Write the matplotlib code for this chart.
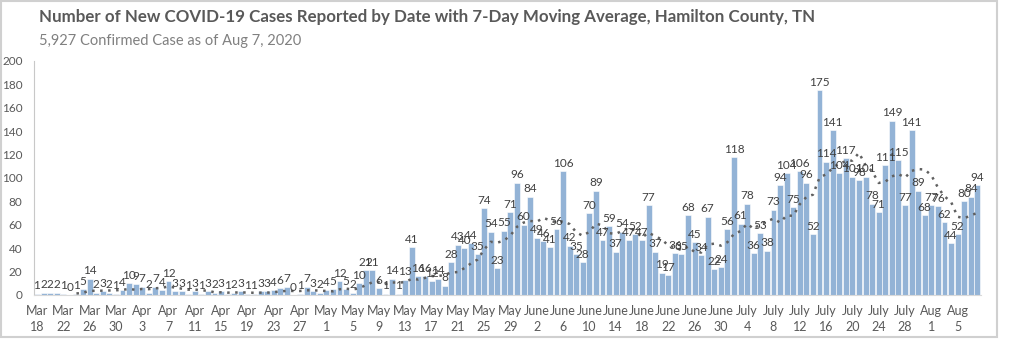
import matplotlib
matplotlib.use('Agg')
import matplotlib.pyplot as plt
from matplotlib.patches import Rectangle
import pandas as pd
import numpy as np

# daily new cases, Mar 18 - Aug 8 2020
mar = [1, 2, 2, 2, 1, 0, 1, 5, 14, 2, 3, 2, 1, 4]
apr = [10, 9, 7, 2, 7, 4, 12, 3, 3, 1, 3, 1, 3, 2, 3, 1, 2, 3, 1, 1,
       3, 3, 4, 6, 7, 0, 1, 7, 3, 2]
may = [4, 5, 12, 5, 2, 10, 21, 21, 6, 1, 14, 1, 13, 41, 16, 16, 12, 14, 8, 28,
       43, 40, 44, 35, 74, 54, 23, 55, 71, 96, 60]
jun = [84, 49, 46, 41, 56, 106, 42, 35, 28, 70, 89, 47, 59, 37, 54, 47, 52, 47, 77, 37,
       19, 17, 36, 35, 68, 45, 34, 67, 22, 24]
jul = [56, 118, 61, 78, 36, 53, 38, 73, 94, 104, 75, 106, 96, 52, 175, 114, 141, 104, 117, 101,
       98, 101, 78, 71, 111, 149, 115, 77, 141, 89, 68]
aug = [77, 76, 62, 44, 52, 80, 84, 94]

cases = mar + apr + may + jun + jul + aug
dates = pd.date_range('2020-03-18', periods=len(cases), freq='D')
df = pd.DataFrame({'date': dates, 'cases': cases})
# 7-day trailing moving average (same as the Excel trendline)
df['ma7'] = df['cases'].rolling(7).mean()

tick_idx = list(range(0, len(cases), 4))
tick_labels = []
for i in tick_idx:
    d = df['date'][i]
    m = d.strftime('%b')
    if m == 'Jun':
        m = 'June'
    elif m == 'Jul':
        m = 'July'
    tick_labels.append(f'{m}\n{d.day}')

plt.rcParams['font.family'] = ['Lato', 'DejaVu Sans']

fig = plt.figure(figsize=(10.12, 3.54), dpi=100)
ax = fig.add_axes([0.0333, 0.1667, 0.9357, 0.6613])

x = np.arange(len(cases))
ax.bar(x, df['cases'], width=0.9, color='#93b3d6', edgecolor='white', linewidth=0.4)
ax.plot(x, df['ma7'], color='#606060', linestyle=(0, (1, 2.2)), linewidth=1.8)

for xi, v in zip(x, cases):
    ax.text(xi, v + 2, str(v), ha='center', va='bottom', fontsize=8.5, color='#404040')

ax.set_xlim(-0.5, len(cases) - 0.5)
ax.set_ylim(0, 200)
ax.set_yticks(range(0, 201, 20))
ax.set_xticks(tick_idx)
ax.set_xticklabels(tick_labels, fontsize=9, color='#595959', linespacing=1.4)
ax.tick_params(axis='y', labelsize=8.5, labelcolor='#595959', length=0, pad=8)
ax.tick_params(axis='x', length=0, pad=7)

for s in ['top', 'right']:
    ax.spines[s].set_visible(False)
ax.spines['left'].set_color('#c8c8c8')
ax.spines['left'].set_linestyle((0, (1, 1)))
ax.spines['left'].set_linewidth(0.8)
ax.spines['bottom'].set_color('#d9d9d9')

fig.text(0.0385, 0.952, 'Number of New COVID-19 Cases Reported by Date with 7-Day Moving Average, Hamilton County, TN',
         fontsize=12.2, fontweight='bold', color='#595959', va='center')
fig.text(0.0385, 0.884, '5,927 Confirmed Case as of Aug 7, 2020',
         fontsize=10.5, color='#808080', va='center')

# light frame around the chart
fig.patches.append(Rectangle((0.001, 0.048), 0.984, 0.95, transform=fig.transFigure,
                             fill=False, edgecolor='#d0d0d0', linewidth=1.5))

fig.savefig('out.png', dpi=100)
